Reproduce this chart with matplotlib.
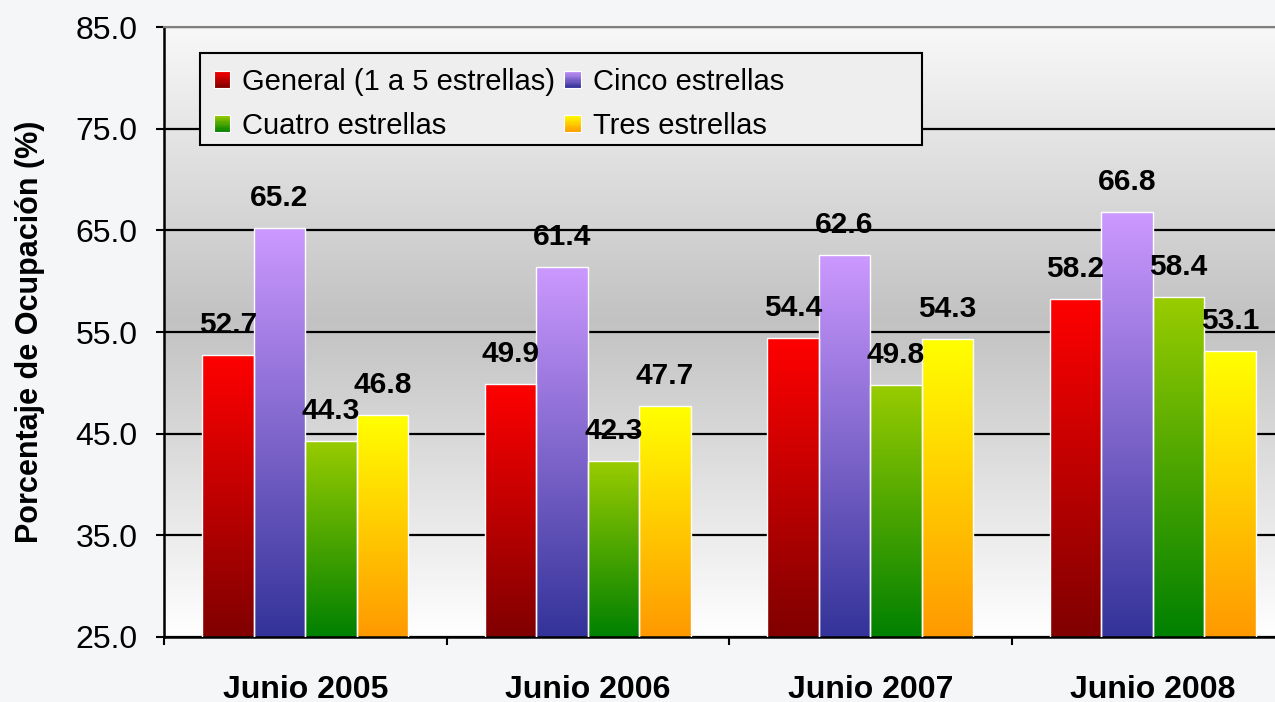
import numpy as np
import matplotlib
matplotlib.use("Agg")
import matplotlib.pyplot as plt
from matplotlib.colors import to_rgb, LinearSegmentedColormap
from matplotlib.legend_handler import HandlerBase
from matplotlib.patches import Rectangle

plt.rcParams['font.family'] = ['Liberation Sans', 'DejaVu Sans']

# datos
categorias = ['Junio 2005', 'Junio 2006', 'Junio 2007', 'Junio 2008']
general = [52.7, 49.9, 54.4, 58.2]
cinco = [65.2, 61.4, 62.6, 66.8]
cuatro = [44.3, 42.3, 49.8, 58.4]
tres = [46.8, 47.7, 54.3, 53.1]

series = [
    ('General (1 a 5 estrellas)', general, '#ff0000', '#800000'),
    ('Cinco estrellas', cinco, '#cc99ff', '#333399'),
    ('Cuatro estrellas', cuatro, '#99cc00', '#008000'),
    ('Tres estrellas', tres, '#ffff00', '#ff9900'),
]


def mezcla(c_bajo, c_alto, t):
    a = np.array(to_rgb(c_bajo))
    b = np.array(to_rgb(c_alto))
    return tuple(a + (b - a) * t)


class HandlerGradiente(HandlerBase):
    """cuadrito de leyenda con degradado vertical"""
    def __init__(self, arriba, abajo, n=14):
        super().__init__()
        self.arriba, self.abajo, self.n = arriba, abajo, n

    def create_artists(self, legend, orig_handle, xdescent, ydescent,
                       width, height, fontsize, trans):
        lado = height
        x0 = -xdescent + (width - lado) / 2
        y0 = -ydescent + (height - lado) / 2
        arts = []
        for i in range(self.n):
            c = mezcla(self.abajo, self.arriba, (i + 0.5) / self.n)
            arts.append(Rectangle((x0, y0 + i * lado / self.n), lado, lado / self.n + 0.3,
                                  facecolor=c, edgecolor='none', transform=trans))
        arts.append(Rectangle((x0, y0), lado, lado, facecolor='none',
                              edgecolor='white', lw=0.8, transform=trans))
        return arts


fig = plt.figure(figsize=(12.75, 7.02), dpi=100, facecolor='#f4f6f7')
ax = fig.add_axes([164 / 1275, 65 / 702, 1130 / 1275, 610 / 702])

# fondo con degradado gris
fondo = LinearSegmentedColormap.from_list(
    'fondo', [(0.0, '#ffffff'), (0.52, '#c2c2c2'), (1.0, '#f8f8f8')])
grad = np.linspace(0, 1, 256).reshape(-1, 1)
ax.imshow(grad, cmap=fondo, origin='lower', extent=[0, 1, 0, 1],
          transform=ax.transAxes, aspect='auto', zorder=0)

x = np.arange(len(categorias))
ancho = 0.182
contenedores = []
handlers = {}
for i, (nombre, vals, arriba, abajo) in enumerate(series):
    pos = x + (i - 1.5) * ancho
    barras = ax.bar(pos, vals, ancho, bottom=0, facecolor='none',
                    edgecolor='#ffffff', lw=1.0, zorder=3, label=nombre)
    cmap = LinearSegmentedColormap.from_list(nombre, [abajo, arriba])
    for b, v in zip(barras, vals):
        x0 = b.get_x()
        img = ax.imshow(grad, cmap=cmap, origin='lower', aspect='auto',
                        extent=[x0, x0 + b.get_width(), 25, v], zorder=2.5)
        img.set_clip_path(b)
        ax.text(b.get_x() + b.get_width() / 2, v + 2.95, f'{v:.1f}',
                ha='center', va='center', fontsize=21.5, fontweight='bold',
                zorder=5)
    contenedores.append(barras)
    handlers[barras] = HandlerGradiente(arriba, abajo)

ax.set_xlim(-0.5, 3.5)
ax.set_ylim(25, 85)

# ejes y rejilla
ax.set_yticks(np.arange(25, 86, 10))
ax.set_yticklabels([f'{t:.1f}' for t in np.arange(25, 86, 10)])
ax.yaxis.grid(True, color='black', lw=1.6)
ax.set_axisbelow(True)
ax.tick_params(axis='y', direction='out', length=6, width=1.5, pad=13,
               labelsize=23)

ax.set_xticks(np.arange(-0.5, 4, 1))
ax.set_xticklabels([])
ax.set_xticks(x, minor=True)
ax.set_xticklabels(categorias, minor=True, fontsize=23, fontweight='bold')
ax.tick_params(axis='x', which='major', direction='out', length=6, width=1.5)
ax.tick_params(axis='x', which='minor', length=0, pad=27)

for lado in ['left', 'bottom']:
    ax.spines[lado].set_color('black')
    ax.spines[lado].set_linewidth(1.8)
ax.spines['top'].set_color('#808080')
ax.spines['top'].set_linewidth(1.5)
ax.spines['right'].set_visible(False)

fig.text(30 / 1275, 370 / 702, 'Porcentaje de Ocupación (%)', rotation=90,
         ha='center', va='center', fontsize=22, fontweight='bold')

# marco de la leyenda (mas ancho que el contenido, como en el original)
marco = Rectangle((36 / 1130, 492 / 610), 722 / 1130, 92 / 610,
                  transform=ax.transAxes, facecolor='#eeeeee',
                  edgecolor='black', lw=1.5, zorder=5.5)
ax.add_patch(marco)

orden = [contenedores[0], contenedores[2], contenedores[1], contenedores[3]]
leg = ax.legend(orden, [c.get_label() for c in orden], handler_map=handlers,
                ncol=2, loc='upper left', bbox_to_anchor=(36 / 1130, 584 / 610),
                borderaxespad=0, fontsize=21, frameon=False,
                handlelength=0.5, handleheight=0.5, handletextpad=0.45,
                columnspacing=0.35, labelspacing=0.56, borderpad=0.5)
leg.set_zorder(6)

fig.savefig('out.png', dpi=100, facecolor=fig.get_facecolor())
